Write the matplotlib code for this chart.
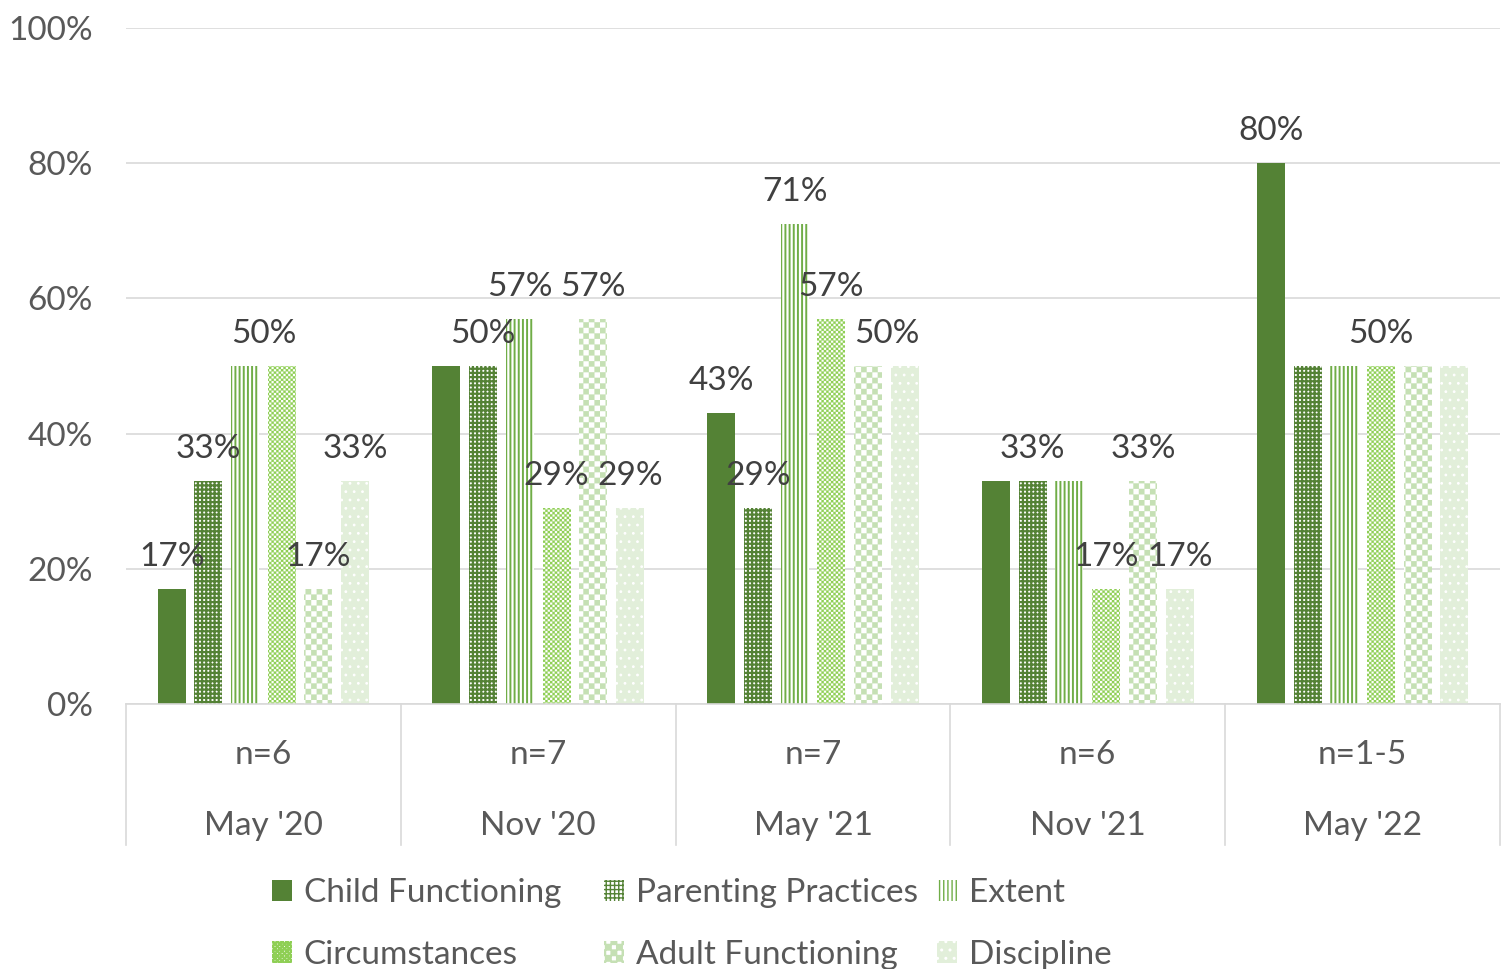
import matplotlib
matplotlib.use("Agg")
import matplotlib.pyplot as plt
import matplotlib.hatch as mhatch
from matplotlib.path import Path
import numpy as np

# ---------------- data ----------------
dates = ["May '20", "Nov '20", "May '21", "Nov '21", "May '22"]
n_labels = ["n=6", "n=7", "n=7", "n=6", "n=1-5"]
series_names = ["Child Functioning", "Parenting Practices", "Extent",
                "Circumstances", "Adult Functioning", "Discipline"]
child_functioning = [17, 50, 43, 33, 80]
parenting_practices = [33, 50, 29, 33, 50]
extent = [50, 57, 71, 33, 50]
circumstances = [50, 29, 57, 17, 50]
adult_functioning = [17, 57, 50, 33, 50]
discipline = [33, 29, 50, 17, 50]
series_values = [child_functioning, parenting_practices, extent,
                 circumstances, adult_functioning, discipline]
# which bars carry a visible data label in each group (tuple = shared label)
shown_labels = [
    [0, 1, (2, 3), 4, 5],
    [1, 2, 3, 4, 5],
    [0, 1, 2, 3, (4, 5)],
    [1, 3, 4, 5],
    [0, 3],
]
yticks = [0, 20, 40, 60, 80, 100]


# ---------------- checkerboard hatch ----------------
def make_checker(char):
    class Checker(mhatch.HatchPatternBase):
        def __init__(self, hatch, density):
            k = hatch.count(char)
            n = int(k * density)
            if n % 2:
                n += 1
            self.n = n
            self.num_vertices = 5 * (n * n // 2) if k else 0

        def set_vertices_and_codes(self, vertices, codes):
            n = self.n
            s = 1.0 / n
            idx = 0
            for i in range(n):
                for j in range(n):
                    if (i + j) % 2 == 0:
                        x0, y0 = i * s, j * s
                        vertices[idx:idx + 5] = [(x0, y0), (x0 + s, y0),
                                                 (x0 + s, y0 + s), (x0, y0 + s),
                                                 (x0, y0)]
                        codes[idx] = Path.MOVETO
                        codes[idx + 1:idx + 4] = Path.LINETO
                        codes[idx + 4] = Path.CLOSEPOLY
                        idx += 5
    return Checker


_new_types = []
for t in mhatch._hatch_types:
    if t is mhatch.Stars:
        _new_types.append(make_checker('*'))
    elif t is mhatch.LargeCircles:
        _new_types.append(make_checker('O'))
    else:
        _new_types.append(t)
mhatch._hatch_types[:] = _new_types

# ---------------- styles ----------------
styles = [
    dict(facecolor="#548235", edgecolor="#548235", hatch=None, hlw=1.0),
    dict(facecolor="white", edgecolor="#548235", hatch="++++", hlw=1.6),
    dict(facecolor="white", edgecolor="#70ad47", hatch="||||", hlw=1.4),
    dict(facecolor="white", edgecolor="#8fcf55", hatch="OOOOOOO", hlw=0.1),
    dict(facecolor="white", edgecolor="#c5e0b4", hatch="***", hlw=0.1),
    dict(facecolor="#e2efda", edgecolor="white", hatch="..", hlw=0.8),
]

FONT = "Lato"
plt.rcParams["font.family"] = [FONT, "DejaVu Sans"]
FS = 24
TICK_C = "#595959"
LAB_C = "#404040"
GRID_C = "#d9d9d9"

fig = plt.figure(figsize=(15.08, 9.69), dpi=100)
ax = fig.add_axes([126 / 1508, 1 - 704 / 969, (1500 - 126) / 1508, (704 - 28) / 969])

x = np.arange(len(dates))
step = 0.1336
width = 0.102
bars = []
for j, (name, vals, st) in enumerate(zip(series_names, series_values, styles)):
    with plt.rc_context({"hatch.linewidth": st["hlw"]}):
        b = ax.bar(x + (j - 2.5) * step, vals, width,
                   facecolor=st["facecolor"], edgecolor=st["edgecolor"],
                   hatch=st["hatch"], linewidth=0, label=name, zorder=3)
    bars.append(b)

# data labels
for g, lab in enumerate(shown_labels):
    for item in lab:
        idx = item if isinstance(item, tuple) else (item,)
        xc = np.mean([x[g] + (j - 2.5) * step for j in idx])
        v = series_values[idx[0]][g]
        ax.annotate(f"{v}%", (xc, v), xytext=(0, 23), textcoords="offset points",
                    ha="center", va="center", fontsize=FS, color=LAB_C, zorder=5)

ax.set_xlim(-0.5, len(dates) - 0.5)
ax.set_ylim(0, 100)
ax.set_yticks(yticks)
ax.set_yticklabels([f"{t}%" for t in yticks], fontsize=FS, color=TICK_C)
ax.tick_params(axis="y", length=0, pad=24)
ax.set_xticks([])
for s in ax.spines.values():
    s.set_visible(False)
ax.grid(axis="y", color=GRID_C, linewidth=1.2, zorder=0)
ax.set_axisbelow(True)

# bottom axis line + category separators
trans = ax.get_xaxis_transform()
ax.plot([-0.5, len(dates) - 0.5], [0, 0], transform=trans, color=GRID_C,
        lw=1.2, clip_on=False, zorder=4)
for b in np.arange(-0.5, len(dates), 1.0):
    ax.plot([b, b], [0, -0.2086], transform=trans, color=GRID_C, lw=1.2,
            clip_on=False)
for g in range(len(dates)):
    ax.text(x[g], -0.0755, n_labels[g], transform=trans, ha="center", va="center",
            fontsize=FS, color=TICK_C)
    ax.text(x[g], -0.1805, dates[g], transform=trans, ha="center", va="center",
            fontsize=FS, color=TICK_C)

# legend: three columns
col_x = [272, 604, 937]
for c in range(3):
    hs = [bars[c], bars[c + 3]]
    ls = [series_names[c], series_names[c + 3]]
    fig.legend(hs, ls, loc="upper left",
               bbox_to_anchor=(col_x[c] / 1508, 1 - 878 / 969),
               frameon=False, fontsize=FS, labelcolor=TICK_C,
               handlelength=0.6, handleheight=0.6, handletextpad=0.35,
               borderpad=0, borderaxespad=0, labelspacing=0.95)

fig.savefig("out.png", dpi=100)
